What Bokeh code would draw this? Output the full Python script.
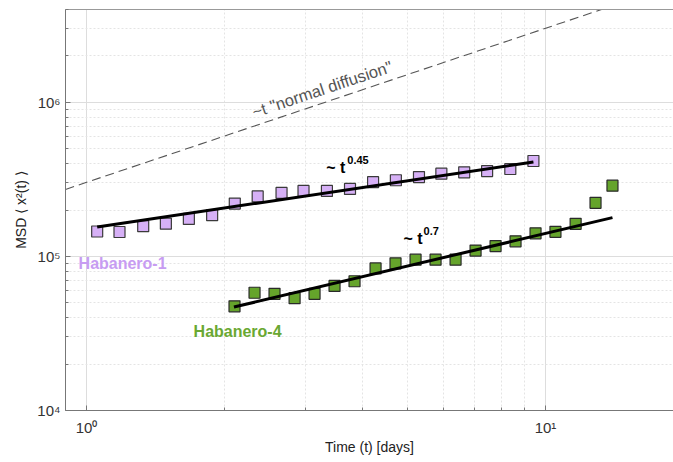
from bokeh.plotting import figure
from bokeh.models import LogAxis, CustomJSTickFormatter, Label, FixedTicker
from bokeh.embed import file_html
from bokeh.resources import INLINE

# ---- data ----
hab1_t = [1.055, 1.18, 1.329, 1.489, 1.671, 1.878, 2.104, 2.36, 2.66, 2.97,
          3.34, 3.75, 4.21, 4.72, 5.30, 5.93, 6.65, 7.46, 8.38, 9.41]
hab1_msd = [1.45e5, 1.44e5, 1.57e5, 1.63e5, 1.75e5, 1.85e5, 2.20e5, 2.45e5, 2.58e5, 2.66e5,
            2.66e5, 2.74e5, 3.03e5, 3.12e5, 3.27e5, 3.44e5, 3.51e5, 3.58e5, 3.69e5, 4.16e5]

hab4_t = [2.101, 2.323, 2.568, 2.840, 3.139, 3.470, 3.836, 4.263, 4.712, 5.210,
          5.760, 6.368, 7.040, 7.783, 8.603, 9.511, 10.51, 11.63, 12.85, 13.99]
hab4_msd = [4.74e4, 5.81e4, 5.72e4, 5.36e4, 5.72e4, 6.43e4, 6.90e4, 8.36e4, 9.01e4, 9.52e4,
            9.52e4, 9.52e4, 1.091e5, 1.167e5, 1.252e5, 1.411e5, 1.443e5, 1.626e5, 2.225e5, 2.878e5]

fit1_t = [1.055, 9.41]
fit1_msd = [1.55e5, 4.10e5]
fit4_t = [2.095, 13.99]
fit4_msd = [4.69e4, 1.784e5]
diff_t = [0.9, 14.0]
diff_msd = [2.72e5, 4.23e6]

x_ticks = [1, 10]
x_minor = [k * 10.0 ** e for e in (-1, 0, 1) for k in range(2, 10)]
y_ticks = [1e4, 1e5, 1e6]
y_minor = [k * 10.0 ** e for e in (4, 5, 6) for k in range(2, 10)]

FONT = "Liberation Sans"

p = figure(width=673, height=462, x_axis_type="log", y_axis_type="log",
           x_range=(0.9, 19.0), y_range=(1e4, 4e6),
           output_backend="svg", toolbar_location=None,
           min_border_left=65, min_border_right=0, min_border_top=9, min_border_bottom=52)
p.outline_line_color = None
p.background_fill_color = "white"
p.border_fill_color = "white"

fmt = CustomJSTickFormatter(code="""
const e = Math.round(Math.log10(tick));
const sup = {"-":"\u207b","0":"\u2070","1":"\u00b9","2":"\u00b2","3":"\u00b3","4":"\u2074","5":"\u2075","6":"\u2076","7":"\u2077","8":"\u2078","9":"\u2079"};
return "10" + String(e).split("").map(c => sup[c]).join("");
""")

xt = FixedTicker(ticks=x_ticks, minor_ticks=x_minor)
yt = FixedTicker(ticks=y_ticks, minor_ticks=y_minor)
p.xaxis.ticker = xt
p.yaxis.ticker = yt
p.xgrid.ticker = xt
p.ygrid.ticker = yt

for ax in (p.xaxis[0], p.yaxis[0]):
    ax.formatter = fmt
    ax.axis_line_color = "#777777"
    ax.major_tick_line_color = "#777777"
    ax.minor_tick_line_color = "#777777"
    ax.major_tick_in = 5
    ax.major_tick_out = 0
    ax.minor_tick_in = 3
    ax.minor_tick_out = 0
    ax.major_label_text_font = FONT
    ax.major_label_text_font_size = "15px"
    ax.major_label_text_color = "#333333"
    ax.axis_label_text_font = FONT
    ax.axis_label_text_font_size = "14px"
    ax.axis_label_text_font_style = "normal"
    ax.axis_label_text_color = "#222222"

p.xaxis.major_label_standoff = 8
p.xaxis.axis_label = "Time (t) [days]"
p.xaxis.axis_label_standoff = 0
p.yaxis.major_label_standoff = 5
p.yaxis.axis_label = "MSD \u27e8 x\u00b2(t) \u27e9"
p.yaxis.axis_label_standoff = 5

top_axis = LogAxis(ticker=FixedTicker(ticks=[]), major_tick_in=0, major_tick_out=0,
                   minor_tick_in=0, minor_tick_out=0,
                   major_label_text_font_size="0px", major_label_text_alpha=0,
                   major_label_standoff=0, axis_line_color="#999999")
p.add_layout(top_axis, "above")

for g in (p.xgrid[0], p.ygrid[0]):
    g.grid_line_color = "#dddddd"
    g.grid_line_width = 1
    g.minor_grid_line_color = "#e4e4e4"
    g.minor_grid_line_dash = "2 2"

# reference line ~t
p.line(diff_t, diff_msd, line_color="#555555", line_width=1.1, line_dash="9 5")

# data
p.scatter(hab1_t, hab1_msd, marker="square", size=11, fill_color="#d6b0f6",
          line_color="#3a3a3a", line_width=1.2)
p.scatter(hab4_t, hab4_msd, marker="square", size=11, fill_color="#65a42b",
          line_color="#2a2a2a", line_width=1.2)

# fits
p.line(fit1_t, fit1_msd, line_color="black", line_width=3)
p.line(fit4_t, fit4_msd, line_color="black", line_width=3)

# annotations
p.add_layout(Label(x=2.30, y=8.61e5, text='~t "normal diffusion"', angle=0.323,
                   angle_units="rad", text_color="#555555", text_font=FONT,
                   text_font_size="16.5px", text_baseline="alphabetic", text_align="left"))

p.add_layout(Label(x=3.33, y=3.80e5, text="~ t", text_font=FONT, text_font_size="16px",
                   text_font_style="bold", text_color="black",
                   text_baseline="alphabetic", text_align="left"))
p.add_layout(Label(x=3.33, y=3.80e5, x_offset=21, y_offset=7, text="0.45", text_font=FONT,
                   text_font_size="11px", text_font_style="bold", text_color="black",
                   text_baseline="alphabetic", text_align="left"))

p.add_layout(Label(x=4.905, y=1.31e5, text="~ t", text_font=FONT, text_font_size="16px",
                   text_font_style="bold", text_color="black",
                   text_baseline="alphabetic", text_align="left"))
p.add_layout(Label(x=4.905, y=1.31e5, x_offset=20, y_offset=7, text="0.7", text_font=FONT,
                   text_font_size="11px", text_font_style="bold", text_color="black",
                   text_baseline="alphabetic", text_align="left"))

p.add_layout(Label(x=0.961, y=9.01e4, text="Habanero-1", text_font=FONT, text_font_size="16px",
                   text_font_style="bold", text_color="#c79cf2",
                   text_baseline="alphabetic", text_align="left"))
p.add_layout(Label(x=1.711, y=3.26e4, text="Habanero-4", text_font=FONT, text_font_size="16px",
                   text_font_style="bold", text_color="#6aa832",
                   text_baseline="alphabetic", text_align="left"))

open("out.html", "w").write(file_html(p, INLINE))
